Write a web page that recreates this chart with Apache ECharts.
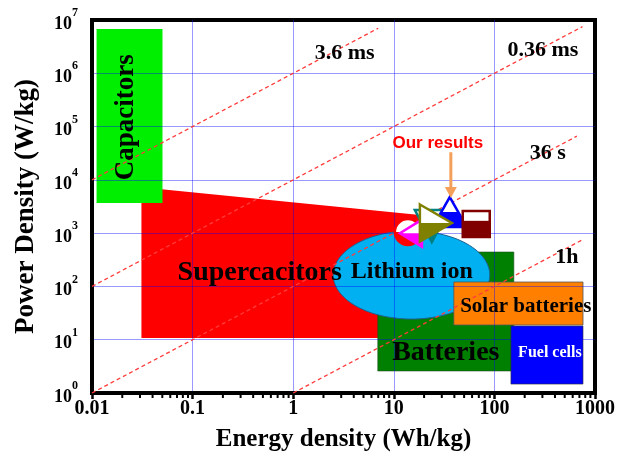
<!DOCTYPE html>
<html><head><meta charset="utf-8">
<script src="https://cdn.jsdelivr.net/npm/echarts@6/dist/echarts.min.js"></script>
<style>html,body{margin:0;padding:0;background:#fff}#c{width:618px;height:462px}</style>
</head><body><div id="c"></div>
<script>
// ---- tick labels ----
const xTickLabels = ['0.01','0.1','1','10','100','1000'];
const yTickExponents = ['0','1','2','3','4','5','6','7'];
const minorDecades = [0.01, 0.1, 1, 10, 100];
const minorMultipliers = [2,3,4,5,6,7,8,9];

// ---- regions (Energy Wh/kg, Power W/kg) ----
const superE = [0.031, 18.2, 18.2, 0.031];
const superP = [7300, 2200, 10.8, 10.8];
const lithiumE = [2.5, 90];
const lithiumP = [24.4, 1100];
const rectNames = ['Batteries','Solar batteries','Fuel cells','Capacitors'];
const rectEmin = [6.93, 39.5, 146, 0.0111];
const rectEmax = [156, 760, 760, 0.0502];
const rectPmin = [2.59, 18.9, 1.47, 3670];
const rectPmax = [442, 121, 18.1, 6.75e6];

// ---- literature / our results markers ----
const markerE = [13.8, 14.8, 23.9, 36, 26.2, 66];
const markerP = [1050, 1000, 1360, 2490, 1550, 1480];

// ---- constant time lines (endpoints) ----
const line36msE = [0.01, 7];      const line36msP = [1e4, 7e6];
const line036msE = [0.01, 750];   const line036msP = [100, 7.5e6];
const line36sE = [0.01, 660];     const line36sP = [1, 6.6e4];
const line1hE = [1, 740];         const line1hP = [1, 740];

// ---- annotation texts ----
const labelTexts = ['Capacitors','Supercacitors','Lithium ion','Batteries','Solar batteries','Fuel cells','3.6 ms','0.36 ms','36 s','1h','Our results'];
const labelE = [0.022, 0.465, 15.1, 32.9, 205, 356, 3.25, 304, 340, 526, 27.4];
const labelP = [1.5e5, 178, 186, 5.6, 41, 5.6, 2.39e6, 2.72e6, 3.18e4, 356, 49000];
const arrowE = [36.9, 36.9];
const arrowP = [33000, 4570];

const SERIF = "'Liberation Serif','Times New Roman',serif";
const SANS = "'Liberation Sans',Arial,sans-serif";

const rectStyles = [
  {fill:'#008000', stroke:'#1d4d1d', lineWidth:0.6},
  {fill:'#ff8000', stroke:'#555', lineWidth:0.8},
  {fill:'#0000ff', stroke:'#333', lineWidth:0.6},
  {fill:'#00ee00', stroke:'#00ee00', lineWidth:0}
];
const labelStyles = [
  {fontSize:27, fontWeight:'bold', fill:'#000', rot:Math.PI/2, font:SERIF},
  {fontSize:28, fontWeight:'bold', fill:'#000', font:SERIF},
  {fontSize:24, fontWeight:'bold', fill:'#000', font:SERIF},
  {fontSize:28, fontWeight:'bold', fill:'#000', font:SERIF},
  {fontSize:21, fontWeight:'bold', fill:'#000', font:SERIF},
  {fontSize:16, fontWeight:'bold', fill:'#fff', font:SERIF},
  {fontSize:22, fontWeight:'bold', fill:'#000', font:SERIF},
  {fontSize:22, fontWeight:'bold', fill:'#000', font:SERIF},
  {fontSize:22, fontWeight:'bold', fill:'#000', font:SERIF},
  {fontSize:22, fontWeight:'bold', fill:'#000', font:SERIF},
  {fontSize:17, fontWeight:'bold', fill:'#ff0000', font:SANS}
];
const markerKinds = ['circle','left','down','up','right','square'];
const markerColors = ['#ff0000','#ff00ff','#008080','#0000ff','#808000','#800000'];
const markerSizes = [[13,13],[11,13.5],[17,16],[17,15],[16,18.5],[13.5,13]];

function markerGeom(kind, cx, cy, w, h){
  if(kind==='up') return {full:[[cx,cy-h],[cx+w,cy+h],[cx-w,cy+h]], bottom:[[cx-w/2,cy],[cx+w/2,cy],[cx+w,cy+h],[cx-w,cy+h]]};
  if(kind==='down') return {full:[[cx-w,cy-h],[cx+w,cy-h],[cx,cy+h]], bottom:[[cx-w/2,cy],[cx+w/2,cy],[cx,cy+h]]};
  if(kind==='right') return {full:[[cx-w,cy-h],[cx+w,cy],[cx-w,cy+h]], bottom:[[cx-w,cy],[cx+w,cy],[cx-w,cy+h]]};
  if(kind==='left') return {full:[[cx+w,cy-h],[cx-w,cy],[cx+w,cy+h]], bottom:[[cx+w,cy],[cx-w,cy],[cx+w,cy+h]]};
  if(kind==='square') return {full:[[cx-w,cy-h],[cx+w,cy-h],[cx+w,cy+h],[cx-w,cy+h]], bottom:[[cx-w,cy-h*0.25],[cx+w,cy-h*0.25],[cx+w,cy+h],[cx-w,cy+h]]};
  return null;
}

function lineSeries(E, P){
  return {type:'line', z:4, silent:true, symbol:'none', data:E.map((e,i)=>[e,P[i]]),
    lineStyle:{color:'#ff3b3b', width:1.3, type:[4,3]}, animation:false};
}

const chart = echarts.init(document.getElementById('c'));
const option = {
  animation:false,
  backgroundColor:'#fff',
  grid:{left:92, right:23, top:20, bottom:69, show:true, borderColor:'#000', borderWidth:4, backgroundColor:'transparent'},
  xAxis:{type:'log', logBase:10, min:0.01, max:1000, splitNumber:5, z:3,
    axisLine:{show:true, lineStyle:{color:'#000', width:4}},
    axisTick:{show:true, inside:false, length:6, lineStyle:{color:'#000', width:2.5}},
    axisLabel:{margin:6, color:'#000', fontFamily:SERIF, fontWeight:'bold', fontSize:20, showMinLabel:true, showMaxLabel:true,
      formatter:v=>xTickLabels[Math.round(Math.log10(v))+2]},
    splitLine:{show:true, showMinLine:false, showMaxLine:false, lineStyle:{color:'rgba(0,0,255,0.4)', width:1}},
    name:'Energy density (Wh/kg)', nameLocation:'middle', nameGap:47,
    nameTextStyle:{fontFamily:SERIF, fontWeight:'bold', fontSize:25, color:'#000', verticalAlign:'middle'}},
  yAxis:{type:'log', logBase:10, min:1, max:1e7, splitNumber:7, z:3,
    axisLine:{show:true, lineStyle:{color:'#000', width:4}},
    axisTick:{show:false},
    axisLabel:{margin:14, color:'#000', showMinLabel:true, showMaxLabel:true,
      formatter:v=>'{b|10}{s|'+yTickExponents[Math.round(Math.log10(v))]+'}',
      rich:{b:{fontFamily:SERIF, fontWeight:'bold', fontSize:18, lineHeight:26, verticalAlign:'bottom', color:'#000'},
            s:{fontFamily:SERIF, fontWeight:'bold', fontSize:12, lineHeight:26, verticalAlign:'top', color:'#000'}}},
    splitLine:{show:true, showMinLine:false, showMaxLine:false, lineStyle:{color:'rgba(0,0,255,0.4)', width:1}},
    name:'Power Density (W/kg)', nameLocation:'middle', nameGap:66, nameRotate:90,
    nameTextStyle:{fontFamily:SERIF, fontWeight:'bold', fontSize:27, color:'#000', verticalAlign:'middle'}},
  series:[
    {type:'custom', z:2, silent:true, data:superE.map((e,i)=>[e,superP[i]]),
      renderItem:(params, api)=>{
        if(params.dataIndex!==0) return null;
        const pts = superE.map((e,i)=>api.coord([e, superP[i]]));
        return {type:'polygon', shape:{points:pts}, style:{fill:'#ff0000'}};
      }},
    {type:'custom', z:2, silent:true, encode:{x:[0,2], y:[1,3]},
      data:[[rectEmin[0], rectPmin[0], rectEmax[0], rectPmax[0]]],
      renderItem:(params, api)=>{
        const p1 = api.coord([api.value(0), api.value(3)]);
        const p2 = api.coord([api.value(2), api.value(1)]);
        return {type:'rect', shape:{x:p1[0], y:p1[1], width:p2[0]-p1[0], height:p2[1]-p1[1]}, style:rectStyles[0]};
      }},
    {type:'custom', z:2, silent:true, encode:{x:[0,2], y:[1,3]},
      data:[[lithiumE[0], lithiumP[0], lithiumE[1], lithiumP[1]]],
      renderItem:(params, api)=>{
        const p1 = api.coord([api.value(0), api.value(3)]);
        const p2 = api.coord([api.value(2), api.value(1)]);
        const cx=(p1[0]+p2[0])/2, cy=(p1[1]+p2[1])/2, rx=(p2[0]-p1[0])/2, ry=(p2[1]-p1[1])/2;
        const pts=[];
        for(let k=0;k<120;k++){const a=k/120*2*Math.PI; pts.push([cx+rx*Math.cos(a), cy+ry*Math.sin(a)]);}
        return {type:'polygon', shape:{points:pts}, style:{fill:'#00b0f0', stroke:'#1f5f8f', lineWidth:1}};
      }},
    {type:'custom', z:2, silent:true, encode:{x:[0,2], y:[1,3]},
      data:[1,2,3].map(i=>[rectEmin[i], rectPmin[i], rectEmax[i], rectPmax[i]]),
      renderItem:(params, api)=>{
        const p1 = api.coord([api.value(0), api.value(3)]);
        const p2 = api.coord([api.value(2), api.value(1)]);
        return {type:'rect', shape:{x:p1[0], y:p1[1], width:p2[0]-p1[0], height:p2[1]-p1[1]}, style:rectStyles[params.dataIndex+1]};
      }},
    lineSeries(line36msE, line36msP),
    lineSeries(line036msE, line036msP),
    lineSeries(line36sE, line36sP),
    lineSeries(line1hE, line1hP),
    {type:'custom', z:5, silent:true, data:markerE.map((e,i)=>[e, markerP[i]]),
      renderItem:(params, api)=>{
        const i = params.dataIndex;
        const c = api.coord([api.value(0), api.value(1)]);
        const kind = markerKinds[i], col = markerColors[i], w = markerSizes[i][0], h = markerSizes[i][1];
        if(kind==='circle'){
          return {type:'group', children:[
            {type:'circle', shape:{cx:c[0], cy:c[1], r:w}, style:{fill:'#fff'}},
            {type:'sector', shape:{cx:c[0], cy:c[1], r0:0, r:w, startAngle:0, endAngle:Math.PI, clockwise:true}, style:{fill:col}},
            {type:'circle', shape:{cx:c[0], cy:c[1], r:w}, style:{fill:'none', stroke:col, lineWidth:2.5}}
          ]};
        }
        const g = markerGeom(kind, c[0], c[1], w, h);
        return {type:'group', children:[
          {type:'polygon', shape:{points:g.full}, style:{fill:'#fff'}},
          {type:'polygon', shape:{points:g.bottom}, style:{fill:col}},
          {type:'polygon', shape:{points:g.full}, style:{fill:'none', stroke:col, lineWidth:2.5, lineJoin:'miter'}}
        ]};
      }},
    {type:'custom', z:5, silent:true, encode:{x:[0,2], y:[1,3]},
      data:[[arrowE[0], arrowP[0], arrowE[1], arrowP[1]]],
      renderItem:(params, api)=>{
        const a = api.coord([api.value(0), api.value(1)]);
        const b = api.coord([api.value(2), api.value(3)]);
        const hl = 11, hw = 6;
        return {type:'group', children:[
          {type:'line', shape:{x1:a[0], y1:a[1], x2:b[0], y2:b[1]-hl+1}, style:{stroke:'#f5a05a', lineWidth:3}},
          {type:'polygon', shape:{points:[[b[0]-hw, b[1]-hl],[b[0]+hw, b[1]-hl],[b[0], b[1]]]}, style:{fill:'#f5a05a'}}
        ]};
      }},
    {type:'custom', z:6, silent:true, clip:false, data:labelE.map((e,i)=>[e, labelP[i]]),
      renderItem:(params, api)=>{
        const i = params.dataIndex, s = labelStyles[i];
        const c = api.coord([api.value(0), api.value(1)]);
        return {type:'text', x:c[0], y:c[1], rotation:s.rot||0,
          style:{text:labelTexts[i], fontSize:s.fontSize, fontWeight:s.fontWeight, fontFamily:s.font, fill:s.fill, align:'center', verticalAlign:'middle'}};
      }},
    {type:'custom', z:6, silent:true, clip:false,
      data:(function(){const d=[]; minorDecades.forEach(dec=>minorMultipliers.forEach(m=>d.push([dec*m, 1]))); return d;})(),
      renderItem:(params, api)=>{
        const c = api.coord([api.value(0), api.value(1)]);
        return {type:'line', shape:{x1:c[0], y1:c[1]+1, x2:c[0], y2:c[1]+5}, style:{stroke:'#000', lineWidth:2}};
      }}
  ]
};
chart.setOption(option);
</script>
</body></html>
